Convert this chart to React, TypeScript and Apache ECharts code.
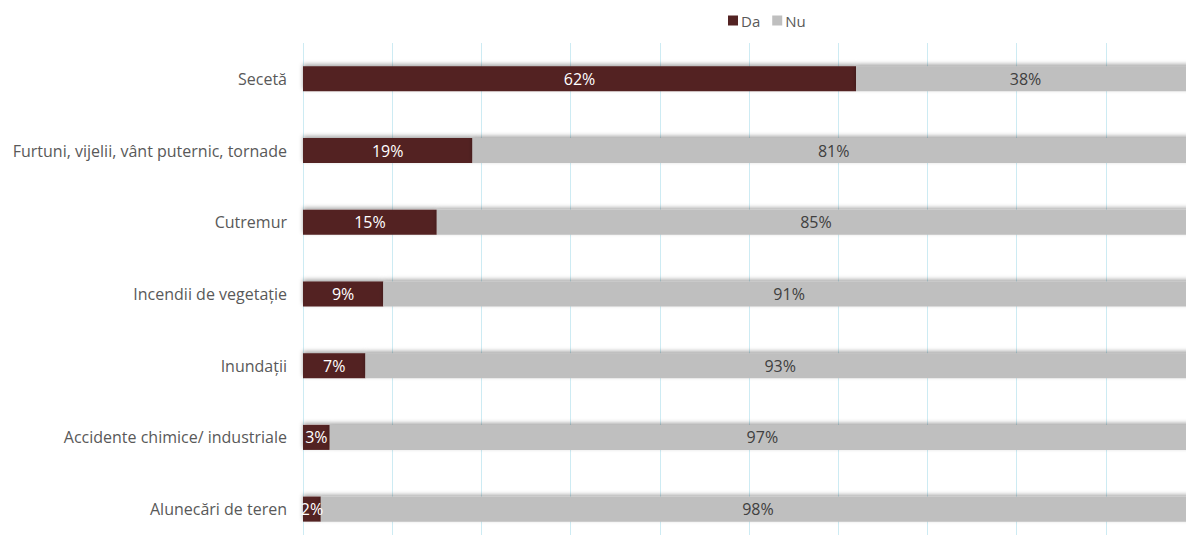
import React, { useEffect, useRef } from "react";
import * as echarts from "echarts";

const categories = [
  "Secetă",
  "Furtuni, vijelii, vânt puternic, tornade",
  "Cutremur",
  "Incendii de vegetație",
  "Inundații",
  "Accidente chimice/ industriale",
  "Alunecări de teren",
];
const daValues = [62, 19, 15, 9, 7, 3, 2];
const nuValues = [38, 81, 85, 91, 93, 97, 98];
const seriesNames = ["Da", "Nu"];

const FONT = "'Open Sans', 'Noto Sans', sans-serif";

export default function App() {
  const ref = useRef<HTMLDivElement>(null);
  useEffect(() => {
    if (!ref.current) return;
    const chart = echarts.init(ref.current, undefined, { renderer: "svg" });
    const shadow = {
      shadowColor: "rgba(0,0,0,0.35)",
      shadowBlur: 4,
      shadowOffsetY: -2,
    };
    chart.setOption({
      animation: false,
      textStyle: { fontFamily: FONT },
      legend: {
        data: seriesNames,
        top: 8,
        left: 723,
        itemWidth: 10,
        itemHeight: 10,
        itemGap: 12,
        icon: "rect",
        textStyle: { color: "#595959", fontSize: 15, fontFamily: FONT, padding: [0, 0, 0, -2] },
      },
      grid: { left: 303, top: 43, right: 0, bottom: 0, containLabel: false },
      xAxis: {
        type: "value",
        min: 0,
        max: 100,
        interval: 10,
        axisLine: { show: false },
        axisTick: { show: false },
        axisLabel: { show: false },
        splitLine: { show: true, lineStyle: { color: "#cdebf3", width: 1 } },
      },
      yAxis: {
        type: "category",
        data: categories,
        inverse: true,
        axisLine: { show: false },
        axisTick: { show: false },
        axisLabel: { color: "#595959", fontSize: 16, fontFamily: FONT, margin: 16 },
      },
      series: [
        {
          name: seriesNames[0],
          type: "bar",
          stack: "total",
          data: daValues,
          barWidth: 25,
          itemStyle: { color: "#532323", ...shadow },
          label: {
            show: true,
            position: "inside",
            color: "#ffffff",
            fontSize: 16,
            fontFamily: FONT,
            formatter: (p: any) => p.value + "%",
          },
        },
        {
          name: seriesNames[1],
          type: "bar",
          stack: "total",
          data: nuValues,
          barWidth: 25,
          itemStyle: { color: "#bfbfbf", ...shadow },
          label: {
            show: true,
            position: "inside",
            color: "#404040",
            fontSize: 16,
            fontFamily: FONT,
            formatter: (p: any) => p.value + "%",
          },
        },
      ],
    });
    return () => chart.dispose();
  }, []);
  return (
    <div
      ref={ref}
      style={{ position: "fixed", left: 0, top: 0, width: 1195, height: 545, background: "#fff" }}
    />
  );
}
